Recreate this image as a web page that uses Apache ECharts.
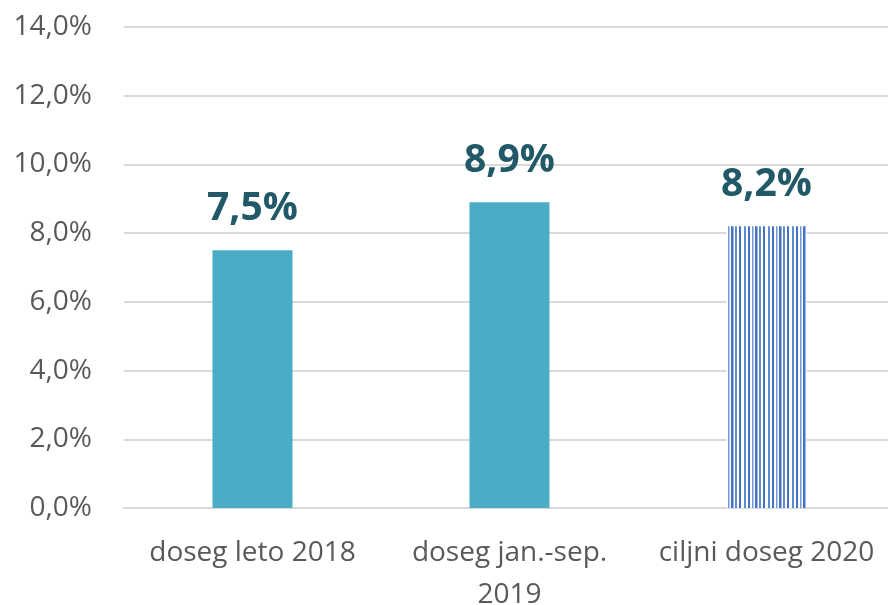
<!DOCTYPE html>
<html>
<head>
<meta charset="utf-8">
<script src="https://cdn.jsdelivr.net/npm/echarts@6/dist/echarts.min.js"></script>
<style>
  html, body { margin: 0; padding: 0; background: #fff; }
  #main { width: 888px; height: 605px; }
</style>
</head>
<body>
<div id="main"></div>
<script>
// kategorije in vrednosti (v %)
const categories = ['doseg leto 2018', 'doseg jan.-sep.\n2019', 'ciljni doseg 2020'];
const values = [7.5, 8.9, 8.2];
const yTicks = { min: 0, max: 14, interval: 2 };

// vzorec s črtami za ciljni doseg
function stripePattern() {
    const c = document.createElement('canvas');
    c.width = 24; c.height = 4;
    const ctx = c.getContext('2d');
    ctx.fillStyle = '#ffffff';
    ctx.fillRect(0, 0, 24, 4);
    const lines = [[0, 2, '#5b8bd0'], [4, 2, '#4472c4'], [8, 1.5, '#6f98d8'], [11, 2.5, '#4472c4'], [15, 2, '#5b8bd0'], [19, 2, '#4472c4']];
    lines.forEach(function (l) {
        ctx.fillStyle = l[2];
        ctx.fillRect(l[0], 0, l[1], 4);
    });
    return c;
}

const chart = echarts.init(document.getElementById('main'));
const font = '"Open Sans", sans-serif';

chart.setOption({
    animation: false,
    grid: { left: 124, top: 27, width: 771, bottom: 97, containLabel: false, outerBoundsMode: 'none' },
    xAxis: {
        type: 'category',
        data: categories,
        axisLine: { lineStyle: { color: '#d9d9d9', width: 2 } },
        axisTick: { show: false },
        axisLabel: {
            color: '#595959', fontSize: 28, fontFamily: font,
            margin: 24, lineHeight: 42, interval: 0
        }
    },
    yAxis: {
        type: 'value',
        min: yTicks.min, max: yTicks.max, interval: yTicks.interval,
        axisLine: { show: false },
        axisTick: { show: false },
        splitLine: { lineStyle: { color: '#d9d9d9', width: 2 } },
        axisLabel: {
            color: '#595959', fontSize: 28, fontFamily: font, margin: 32,
            formatter: function (v) { return v.toFixed(1).replace('.', ',') + '%'; }
        }
    },
    series: [{
        type: 'bar',
        barWidth: 80,
        data: values.map(function (v, i) {
            return {
                value: v,
                itemStyle: i === 2
                    ? { color: { image: stripePattern(), repeat: 'repeat' } }
                    : { color: '#4bacc6' }
            };
        }),
        label: {
            show: true,
            position: 'top',
            distance: 22,
            color: '#215968',
            fontSize: 39,
            fontWeight: 'bold',
            fontFamily: font,
            formatter: function (p) { return p.value.toFixed(1).replace('.', ',') + '%'; }
        }
    }]
});
</script>
</body>
</html>
